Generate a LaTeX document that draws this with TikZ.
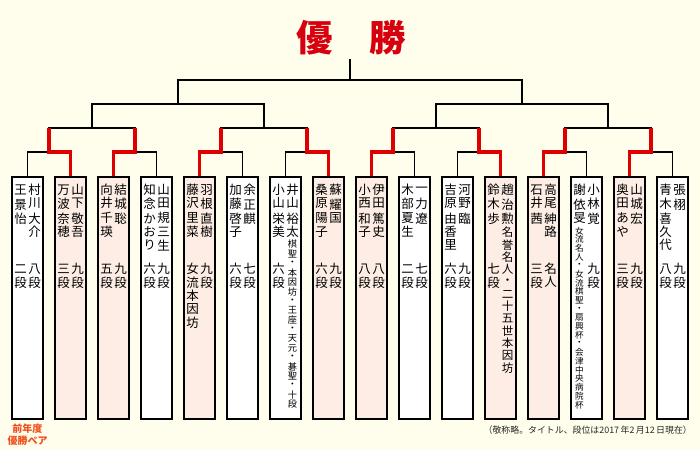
\documentclass[tikz,border=0pt]{standalone}
\usepackage{fontspec}
\setmainfont{Noto Sans CJK JP}
\usetikzlibrary{positioning}

\definecolor{bgcream}{RGB}{255,254,236}
\definecolor{winpink}{RGB}{253,237,228}
\definecolor{bracketred}{RGB}{222,0,0}
\definecolor{titlered}{RGB}{215,0,15}
\definecolor{notered}{RGB}{240,80,30}
\definecolor{notegray}{RGB}{40,40,40}

% vertical text: one character per step, | gives a small gap
\ExplSyntaxOn
\dim_new:N \l_tate_pitch_dim
\NewDocumentCommand \tate { O{13.4pt} m }
  {
    \dim_set:Nn \l_tate_pitch_dim {#1}
    \vbox:n
      {
        \offinterlineskip
        \tl_map_inline:nn {#2}
          {
            \str_if_eq:nnTF {##1} {|}
              { \skip_vertical:n {1.6pt} }
              {
                \vbox_to_ht:nn { \l_tate_pitch_dim }
                  { \vss \hbox_to_wd:nn { 1em } { \hss ##1 \hss } \vss }
              }
          }
      }
  }
\ExplSyntaxOff

\tikzset{
  pairbox/.style={draw=black, line width=2pt, fill=white, minimum width=31pt, minimum height=242pt, inner sep=0pt},
  winbox/.style={pairbox, fill=winpink},
  namecol/.style={anchor=north, inner sep=0pt, font=\fontsize{12.5}{14}\selectfont},
  smallcol/.style={inner sep=0pt, font=\fontsize{9.2}{10}\selectfont},
  titlecol/.style={inner sep=0pt, font=\fontsize{11.5}{12}\selectfont},
  bline/.style={line width=1.6pt, black},
  rline/.style={line width=3.2pt, bracketred},
}

% box number, style, right name, right rank, left name, left rank
\newcommand{\pair}[6]{%
  \pgfmathsetmacro{\cx}{27.5+43*(#1-1)}
  \node[#2] (b#1) at (\cx,298) {};
  \node[namecol] (b#1rn) at (\cx+7,183) {\tate{#3}};
  \node[namecol] (b#1ln) at (\cx-7,183) {\tate{#5}};
  \if\relax\detokenize{#4}\relax\else
    \node[namecol] (b#1rk) at (\cx+7,262) {\tate{#4}};
  \fi
  \if\relax\detokenize{#6}\relax\else
    \node[namecol] (b#1lk) at (\cx-7,262) {\tate{#6}};
  \fi
}

\begin{document}
\begin{tikzpicture}[line join=miter, x=1pt, y=-1pt]
\fill[bgcream] (0,0) rectangle (700,450);

\node[font=\fontsize{36.5}{40}\selectfont\bfseries, text=titlered, inner sep=0pt] (title) at (351,37.5) {優　勝};

% pairs
\pair{1}{pairbox}{村川|大介}{八段}{王|景怡}{二段}
\pair{2}{winbox}{山下|敬吾}{九段}{万波|奈穂}{三段}
\pair{3}{winbox}{結城|聡}{九段}{向井|千瑛}{五段}
\pair{4}{pairbox}{山田|規三生}{九段}{知念|かおり}{六段}
\pair{5}{winbox}{羽根|直樹}{九段}{藤沢|里菜}{女流本因坊}
\pair{6}{pairbox}{余|正麒}{七段}{加藤|啓子}{六段}
\pair{7}{pairbox}{井山|裕太}{}{小山|栄美}{六段}
\pair{8}{winbox}{蘇|耀国}{九段}{桑原|陽子}{六段}
\pair{9}{winbox}{伊田|篤史}{八段}{小西|和子}{八段}
\pair{10}{pairbox}{一力|遼}{七段}{木部|夏生}{二段}
\pair{11}{pairbox}{河野|臨}{九段}{吉原|由香里}{六段}
\pair{12}{winbox}{趙|治勲}{}{鈴木|歩}{七段}
\pair{13}{winbox}{高尾|紳路}{名人}{石井|茜}{三段}
\pair{14}{pairbox}{小林|覚}{九段}{謝|依旻}{}
\pair{15}{winbox}{山城|宏}{九段}{奥田|あや}{三段}
\pair{16}{pairbox}{張|栩}{九段}{青木|喜久代}{八段}

% titles under the names
\node[smallcol, below=1pt of b7rn] (b7rt) {\tate[9.4pt]{棋聖・本因坊・王座・天元・碁聖・十段}};
\node[titlecol, below=1pt of b12rn] (b12rt) {\tate[12.3pt]{名誉名人・二十五世本因坊}};
\node[smallcol, font=\fontsize{8.6}{9}\selectfont, below=1pt of b14ln] (b14lt) {\tate[8.7pt]{女流名人・女流棋聖・扇興杯・会津中央病院杯}};

% bracket joints
\foreach \i in {1,...,8}
  \coordinate (m\i) at (49+86*\i-86,152);
\foreach \i in {1,...,4}
  \coordinate (n\i) at (92+172*\i-172,128);
\coordinate (s1) at (178,104);
\coordinate (s2) at (522,104);
\coordinate (f) at (350,80);
\coordinate (champ) at (350,59);

% bracket
\foreach \i [evaluate=\i as \a using int(2*\i-1), evaluate=\i as \b using int(2*\i)] in {1,...,8}
  \draw[bline] (b\a.north) |- (m\i) -| (b\b.north);
\foreach \i/\a/\b in {1/1/2,2/3/4,3/5/6,4/7/8}
  \draw[bline] (m\a) |- (n\i) -| (m\b);
\draw[bline] (n1) |- (s1) -| (n2);
\draw[bline] (n3) |- (s2) -| (n4);
\draw[bline] (s1) |- (f) -| (s2);
\draw[bline] (f) -- (champ);

% first round winners
\foreach \w/\i in {2/1,3/2,5/3,8/4,9/5,12/6,13/7,15/8}
  \draw[rline] (b\w.north) |- (m\i) -- (m\i |- n1);

% notes
\node[align=center, inner sep=0pt, text=notered, font=\fontsize{10}{12}\selectfont\bfseries] (prev) at (27.5,435) {前年度\\優勝ペア};
\node[anchor=east, inner sep=0pt, text=notegray, font=\fontsize{8.9}{10}\selectfont] (asof) at (692,430) {（敬称略。タイトル、段位は2017\,年2\,月12\,日現在）};
\end{tikzpicture}
\end{document}
